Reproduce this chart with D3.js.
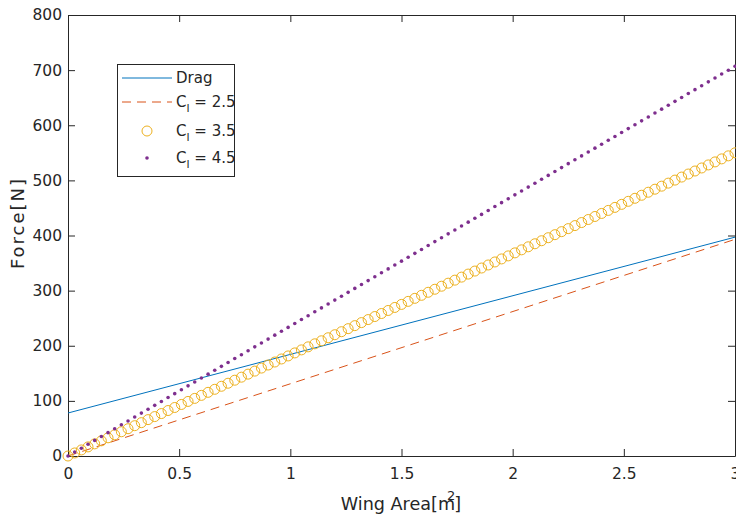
<!DOCTYPE html>
<html><head><meta charset="utf-8">
<script src="https://cdn.jsdelivr.net/npm/d3@7"></script>
<style>body{margin:0;background:#fff}svg{display:block}text{font-family:"DejaVu Sans",sans-serif;fill:#262626}</style>
</head><body><svg id="c" width="736" height="516"></svg>
<script>
// Wing area samples (m^2) for the marker series
const area = [0,0.03,0.06,0.09,0.12,0.15,0.18,0.21,0.24,0.27,0.3,0.33,0.36,0.39,0.42,0.45,0.48,0.51,0.54,0.57,0.6,0.63,0.66,0.69,0.72,0.75,0.78,0.81,0.84,0.87,0.9,0.93,0.96,0.99,1.02,1.05,1.08,1.11,1.14,1.17,1.2,1.23,1.26,1.29,1.32,1.35,1.38,1.41,1.44,1.47,1.5,1.53,1.56,1.59,1.62,1.65,1.68,1.71,1.74,1.77,1.8,1.83,1.86,1.89,1.92,1.95,1.98,2.01,2.04,2.07,2.1,2.13,2.16,2.19,2.22,2.25,2.28,2.31,2.34,2.37,2.4,2.43,2.46,2.49,2.52,2.55,2.58,2.61,2.64,2.67,2.7,2.73,2.76,2.79,2.82,2.85,2.88,2.91,2.94,2.97,3];
// Line series (endpoints)
const lineArea = [0, 3];
const drag = [78, 397];
const lift25 = [0, 393];
// Marker series
const lift35 = [0,5.5,11,16.5,22,27.5,33,38.5,44,49.5,55,60.5,66,71.5,77,82.5,88,93.5,99,104.5,110,115.5,121,126.5,132,137.5,143,148.5,154,159.5,165,170.5,176,181.5,187,192.5,198,203.5,209,214.5,220,225.5,231,236.5,242,247.5,253,258.5,264,269.5,275,280.5,286,291.5,297,302.5,308,313.5,319,324.5,330,335.5,341,346.5,352,357.5,363,368.5,374,379.5,385,390.5,396,401.5,407,412.5,418,423.5,429,434.5,440,445.5,451,456.5,462,467.5,473,478.5,484,489.5,495,500.5,506,511.5,517,522.5,528,533.5,539,544.5,550];
const lift45 = [0,7.1,14.1,21.2,28.3,35.4,42.4,49.5,56.6,63.6,70.7,77.8,84.8,91.9,99.0,106.1,113.1,120.2,127.3,134.3,141.4,148.5,155.5,162.6,169.7,176.8,183.8,190.9,198.0,205.0,212.1,219.2,226.2,233.3,240.4,247.5,254.5,261.6,268.7,275.7,282.8,289.9,296.9,304.0,311.1,318.2,325.2,332.3,339.4,346.4,353.5,360.6,367.6,374.7,381.8,388.9,395.9,403.0,410.1,417.1,424.2,431.3,438.3,445.4,452.5,459.6,466.6,473.7,480.8,487.8,494.9,502.0,509.0,516.1,523.2,530.3,537.3,544.4,551.5,558.5,565.6,572.7,579.7,586.8,593.9,601.0,608.0,615.1,622.2,629.2,636.3,643.4,650.4,657.5,664.6,671.7,678.7,685.8,692.9,699.9,707.0];
const xTicks = [0, 0.5, 1, 1.5, 2, 2.5, 3];
const yTicks = [0, 100, 200, 300, 400, 500, 600, 700, 800];
const legendLabels = ["Drag", "2.5", "3.5", "4.5"];

const svg = d3.select("#c");
const L = 68, R = 735, T = 15, B = 456;
const x = d3.scaleLinear().domain([0, 3]).range([L, R]);
const y = d3.scaleLinear().domain([0, 800]).range([B, T]);
const axisCol = "#262626";
const tk = 7;

// axes
const gx = svg.append("g").attr("transform", `translate(0,${B})`)
  .call(d3.axisBottom(x).tickValues(xTicks).tickFormat(d3.format("")).tickSizeInner(-tk).tickSizeOuter(0).tickPadding(12));
const gxt = svg.append("g").attr("transform", `translate(0,${T})`)
  .call(d3.axisTop(x).tickValues(xTicks).tickFormat("").tickSizeInner(-tk).tickSizeOuter(0));
const gy = svg.append("g").attr("transform", `translate(${L},0)`)
  .call(d3.axisLeft(y).tickValues(yTicks).tickSizeInner(-tk).tickSizeOuter(0).tickPadding(6));
const gyr = svg.append("g").attr("transform", `translate(${R},0)`)
  .call(d3.axisRight(y).tickValues(yTicks).tickFormat("").tickSizeInner(-tk).tickSizeOuter(0));
[gx, gxt, gy, gyr].forEach(g => {
  g.selectAll("path").attr("stroke", axisCol).attr("stroke-width", 1);
  g.selectAll("line").attr("stroke", axisCol).attr("stroke-width", 1);
  g.selectAll("text").attr("font-size", 15.5).style("font-family", "DejaVu Sans").attr("fill", axisCol);
});

// series
const lineGen = (ys) => d3.line().x((d, i) => x(lineArea[i])).y(d => y(d))(ys);
svg.append("path").attr("d", lineGen(drag)).attr("fill", "none").attr("stroke", "#0072BD").attr("stroke-width", 1);
svg.append("path").attr("d", lineGen(lift25)).attr("fill", "none").attr("stroke", "#D95319").attr("stroke-width", 1).attr("stroke-dasharray", "9,6");
svg.append("g").selectAll("circle").data(lift35).join("circle")
  .attr("cx", (d, i) => x(area[i])).attr("cy", d => y(d)).attr("r", 5)
  .attr("fill", "none").attr("stroke", "#EDB120").attr("stroke-width", 1);
svg.append("g").selectAll("circle").data(lift45).join("circle")
  .attr("cx", (d, i) => x(area[i])).attr("cy", d => y(d)).attr("r", 1.8)
  .attr("fill", "#7E2F8E");

// axis labels
const xl = svg.append("text").attr("x", 401).attr("y", 510).attr("text-anchor", "middle").attr("font-size", 17.6);
xl.append("tspan").text("Wing Area[m");
xl.append("tspan").attr("dx", -8).attr("dy", -10).attr("font-size", 13).text("2");
xl.append("tspan").attr("dx", -1).attr("dy", 10).text("]");
svg.append("text").attr("transform", "translate(24,223) rotate(-90)").attr("text-anchor", "middle")
  .attr("font-size", 18).attr("letter-spacing", 2).text("Force[N]");

// legend
const lg = svg.append("g");
lg.append("rect").attr("x", 117.5).attr("y", 64.5).attr("width", 117).attr("height", 112)
  .attr("fill", "#fff").attr("stroke", axisCol).attr("stroke-width", 1);
const rowY = [78, 102, 131, 158];
lg.append("line").attr("x1", 122).attr("x2", 172).attr("y1", rowY[0]).attr("y2", rowY[0]).attr("stroke", "#0072BD");
lg.append("line").attr("x1", 122).attr("x2", 172).attr("y1", rowY[1]).attr("y2", rowY[1]).attr("stroke", "#D95319").attr("stroke-dasharray", "9,6");
lg.append("circle").attr("cx", 147).attr("cy", rowY[2]).attr("r", 5).attr("fill", "none").attr("stroke", "#EDB120");
lg.append("circle").attr("cx", 147).attr("cy", rowY[3]).attr("r", 1.8).attr("fill", "#7E2F8E");
legendLabels.forEach((t, i) => {
  const tx = lg.append("text").attr("x", 176).attr("y", rowY[i] + 5).attr("font-size", 15);
  if (i === 0) { tx.text(t); }
  else {
    tx.text("C");
    tx.append("tspan").attr("dy", 5).attr("font-size", 11).text("l");
    tx.append("tspan").attr("dy", -5).text(" = " + t);
  }
});
</script></body></html>
